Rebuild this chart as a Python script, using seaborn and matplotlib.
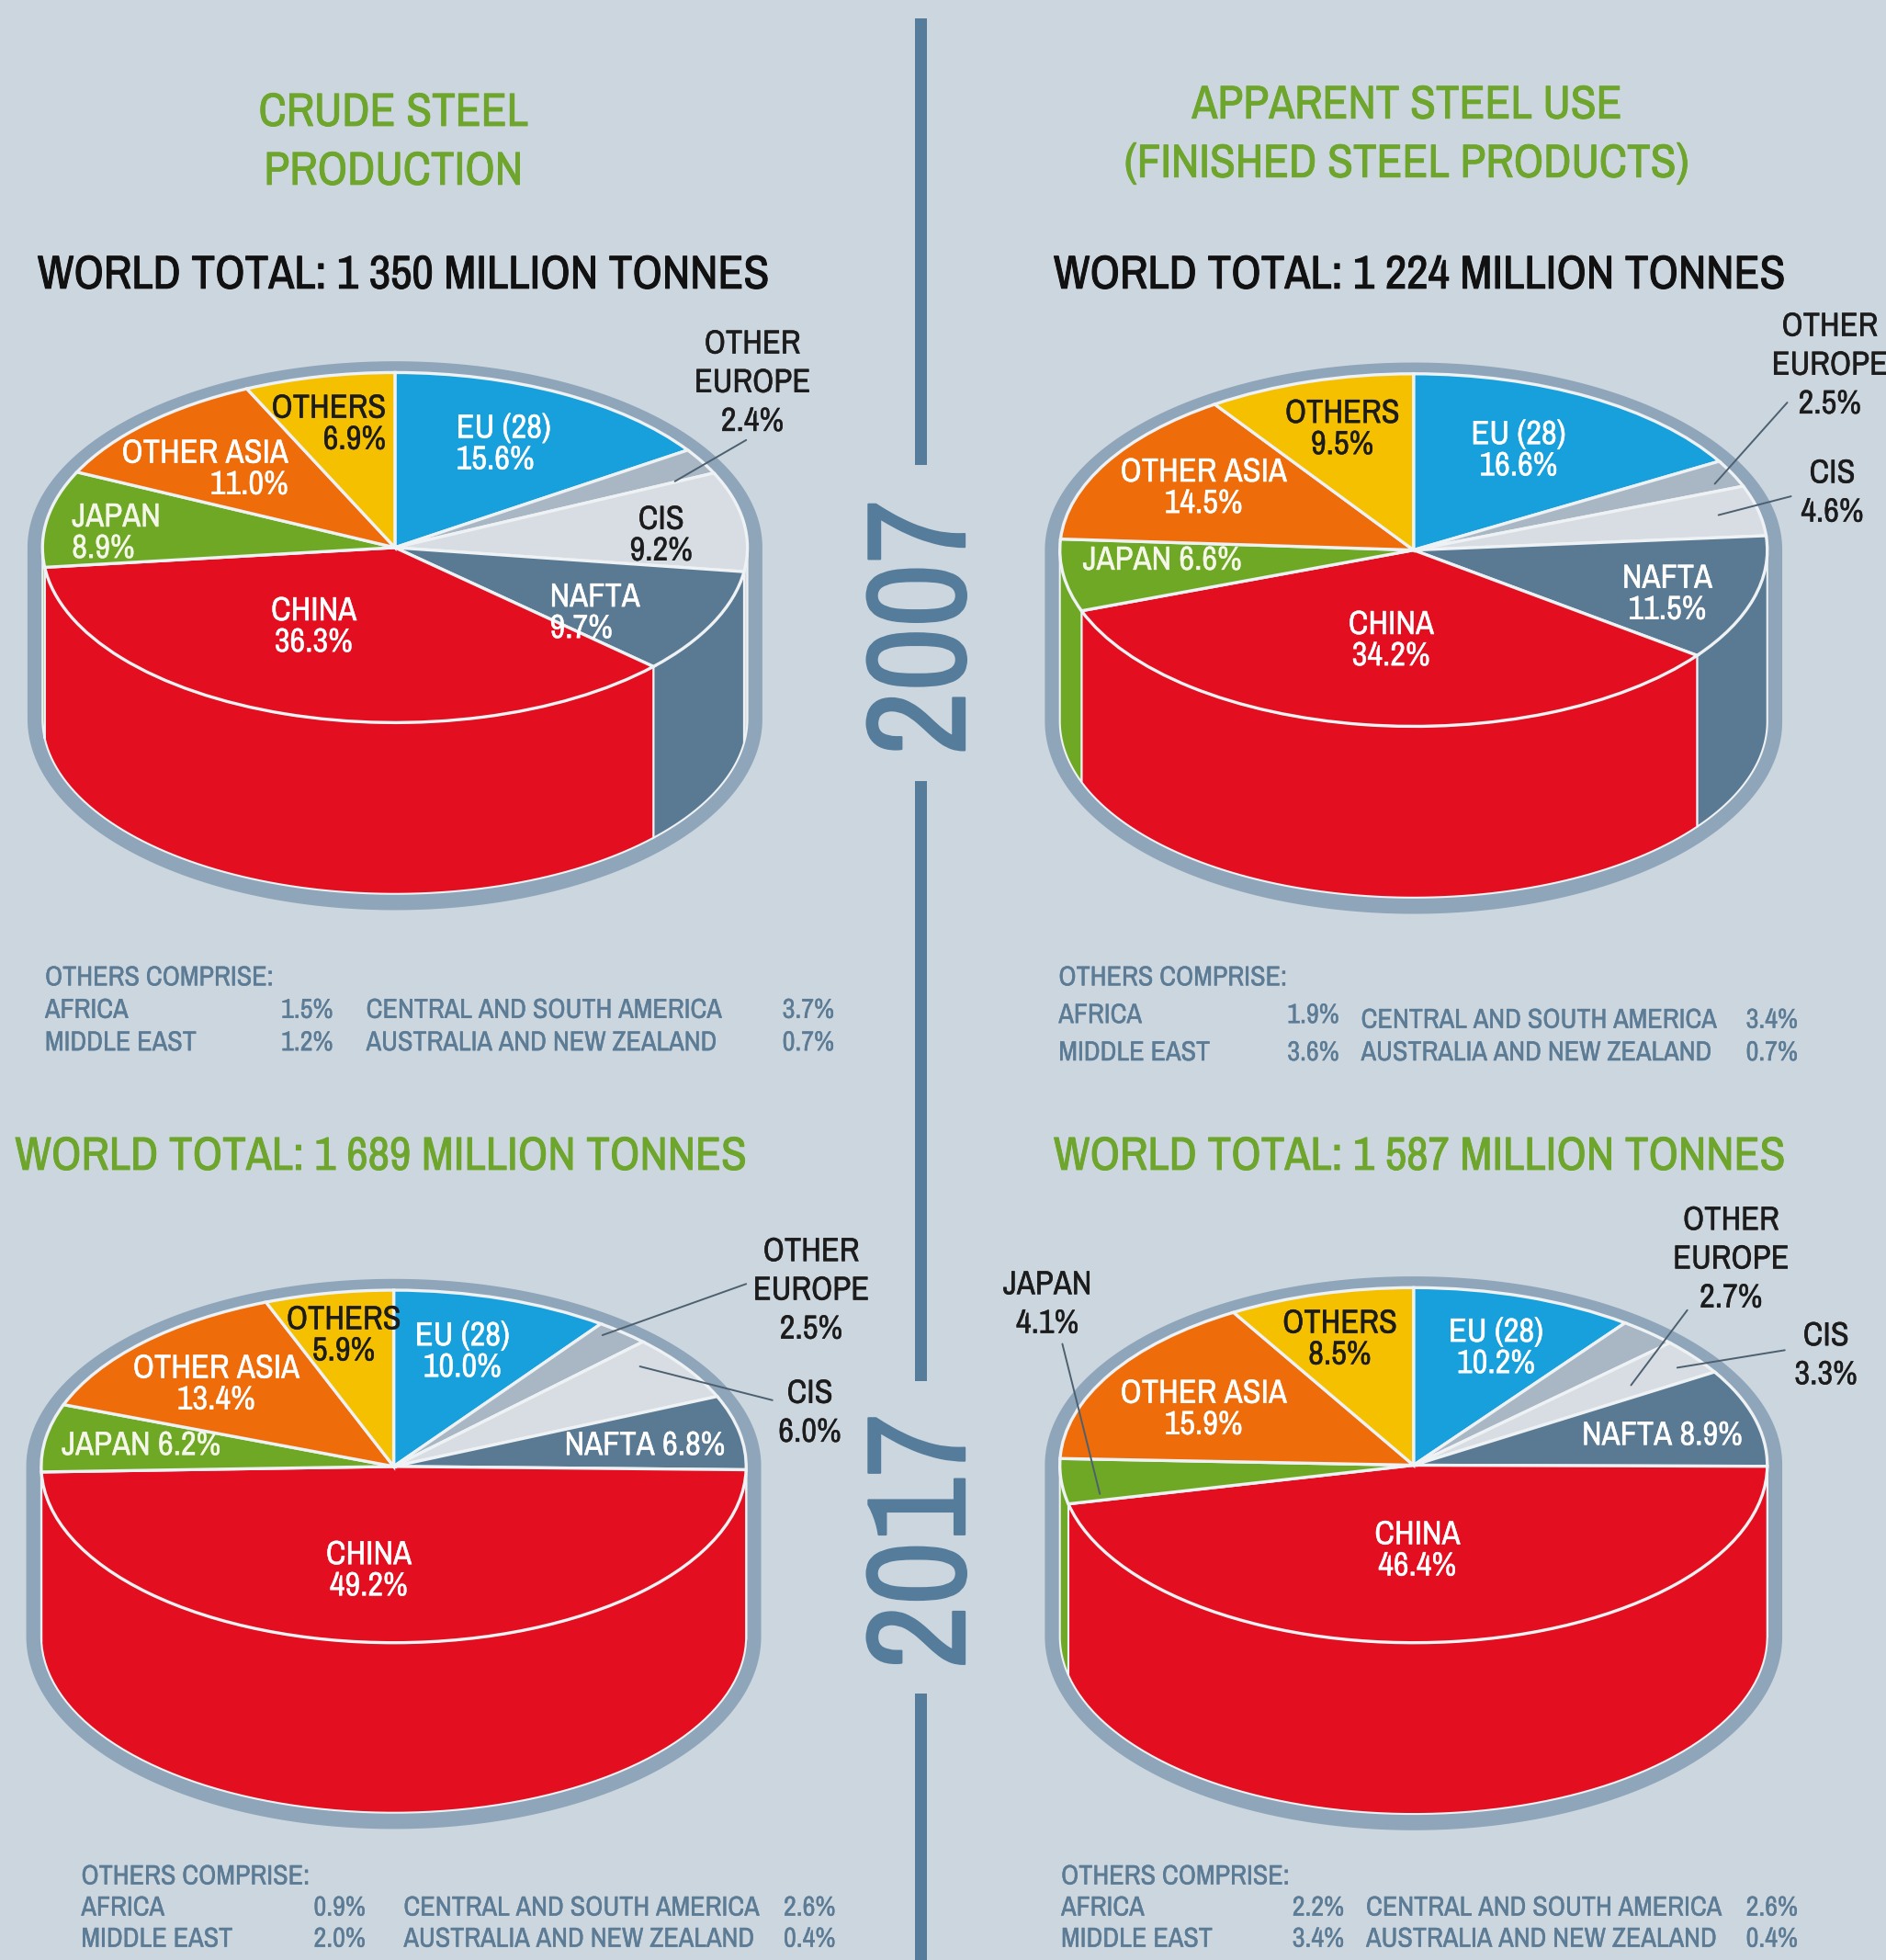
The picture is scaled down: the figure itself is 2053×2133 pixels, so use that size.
import numpy as np
import matplotlib
matplotlib.use("Agg")
import matplotlib.pyplot as plt
import matplotlib.patheffects as pe
from matplotlib import font_manager
from matplotlib.lines import Line2D
from matplotlib.patches import Rectangle
import seaborn as sns

# slices run clockwise from 12 o'clock
slice_names = ["EU (28)", "OTHER EUROPE", "CIS", "NAFTA", "CHINA", "JAPAN", "OTHER ASIA", "OTHERS"]
prod_2007 = [15.6, 2.4, 9.2, 9.7, 36.3, 8.9, 11.0, 6.9]
use_2007 = [16.6, 2.5, 4.6, 11.5, 34.2, 6.6, 14.5, 9.5]
prod_2017 = [10.0, 2.5, 6.0, 6.8, 49.2, 6.2, 13.4, 5.9]
use_2017 = [10.2, 2.7, 3.3, 8.9, 46.4, 4.1, 15.9, 8.5]

other_names = ["AFRICA", "MIDDLE EAST", "CENTRAL AND SOUTH AMERICA", "AUSTRALIA AND NEW ZEALAND"]
others_prod_2007 = [1.5, 1.2, 3.7, 0.7]
others_use_2007 = [1.9, 3.6, 3.4, 0.7]
others_prod_2017 = [0.9, 2.0, 2.6, 0.4]
others_use_2017 = [2.2, 3.4, 2.6, 0.4]

totals = ["1 350", "1 224", "1 689", "1 587"]
years = ["2007", "2017"]

W, H = 2053, 2133
S = W / 1509  # layout below was measured on a 1509 px wide view

BG = "#ccd6df"
RING = "#8fa5b9"
EDGE = "#eef2f4"
GREEN = "#6ea52c"
BLUE = "#557d9b"
SLATE = "#5c7b95"
DARK = "#1c1c1c"
slice_colors = sns.color_palette(["#18a0dc", "#a9b7c5", "#d7dde3", "#5a7a93",
                                  "#e30f20", "#6fa824", "#ef6c0a", "#f5c000"])

sns.set_theme(style="white", rc={"figure.facecolor": BG, "axes.facecolor": "none"})
# the original is set in a condensed face; shrink the text if the narrow one is missing
have = {f.name for f in font_manager.fontManager.ttflist}
NARROW = "Archivo Narrow" in have
FS = 1.0 if NARROW else 0.78
plt.rcParams["font.family"] = ["Archivo Narrow", "Liberation Sans", "DejaVu Sans"] if NARROW else ["Liberation Sans", "DejaVu Sans"]

LABEL = 26.3
SMALL = 21.7
HEAD = 36.8

fig = plt.figure(figsize=(W / 100, H / 100), dpi=100)


def put(x, y, s, size=LABEL, color=DARK, ha="center", va="center", heavy=0.25, **kw):
    t = fig.text(x * S / W, 1 - y * S / H, s, fontsize=size * FS, color=color, ha=ha, va=va, **kw)
    t.set_path_effects([pe.withStroke(linewidth=heavy, foreground=color)])
    return t


def leader(x1, y1, x2, y2, color="#4d6070"):
    fig.add_artist(Line2D([x1 * S / W, x2 * S / W], [1 - y1 * S / H, 1 - y2 * S / H],
                          color=color, lw=1.4, zorder=6))


def cylinder(values, cx, cy, rx, ry, depth, rim=(12, 9, 13)):
    d = depth / ry
    pad_x, pad_y = 0.12, 0.15
    left = (cx - rx * (1 + pad_x)) * S / W
    width = 2 * rx * (1 + pad_x) * S / W
    bottom = 1 - (cy + ry * (1 + d + pad_y)) * S / H
    height = ry * (2 + d + 2 * pad_y) * S / H
    ax = fig.add_axes([left, bottom, width, height])

    # grey tray behind the cake
    t = np.radians(np.linspace(-90, 90, 200))
    rr = 1 + rim[0] / rx
    tx = np.r_[rr * np.sin(t), rr * np.sin(t[::-1])]
    ty = np.r_[(1 + rim[1] / ry) * np.cos(t), -d - (1 + rim[2] / ry) * np.cos(t[::-1])]
    ax.fill(tx, ty, color=RING, lw=0, zorder=0)

    # side wall from the front half of each slice
    edges = np.r_[0, np.cumsum(values)] / np.sum(values) * 360
    for a1, a2, col in zip(edges[:-1], edges[1:], slice_colors):
        lo, hi = max(a1, 90), min(a2, 270)
        if lo >= hi:
            continue
        a = np.radians(np.linspace(lo, hi, 80))
        wx = np.r_[np.sin(a), np.sin(a[::-1])]
        wy = np.r_[np.cos(a), np.cos(a[::-1]) - d]
        ax.fill(wx, wy, facecolor=col, edgecolor=EDGE, lw=1.5, zorder=1)

    ax.pie(values, colors=slice_colors, startangle=90, counterclock=False, radius=1,
           wedgeprops={"edgecolor": EDGE, "linewidth": 2.4, "zorder": 2})
    ax.set_aspect("auto")
    ax.set_xlim(-1 - pad_x, 1 + pad_x)
    ax.set_ylim(-1 - d - pad_y, 1 + pad_y)
    ax.axis("off")
    return ax


def slice_text(values, layout, outside=(1,)):
    # layout: slice index -> x, y, colour, separator, line alignment
    for i, (x, y, col, sep, ma) in layout.items():
        name = slice_names[i]
        if i == 1:
            name = name.replace(" ", "\n")
        put(x, y, f"{name}{sep}{values[i]:.1f}%", color=col, ma=ma,
            linespacing=1.34 if i in outside else 1.04)


def others_table(vals, x0, x1, x2, x3, y0, ys):
    put(x0, y0 + 1, "OTHERS COMPRISE:", SMALL, SLATE, ha="left")
    for k, (xn, xv) in enumerate([(x0, x1), (x2, x3)]):
        for j in range(2):
            yn, yv = ys[k][j]
            put(xn, yn + 1, other_names[2 * k + j], SMALL, SLATE, ha="left")
            put(xv, yv + 1, f"{vals[2 * k + j]:.1f}%", SMALL, SLATE, ha="left")


W1, W2 = "#ffffff", "#f3f6e8"

cylinder(prod_2007, 316, 438, 282, 140, 137)
cylinder(use_2007, 1131, 440, 283, 141, 137)
cylinder(prod_2017, 315, 1173, 282, 141, 136)
cylinder(use_2017, 1131, 1172, 283, 142, 137)

slice_text(prod_2007, {0: (403, 355, W1, "\n", "left"), 1: (602, 306, DARK, "\n", "center"),
                       2: (529, 428, DARK, "\n", "center"), 3: (476, 490, W1, "\n", "left"),
                       4: (251, 501, W1, "\n", "center"), 5: (93, 426, W2, "\n", "left"),
                       6: (164, 375, W1, "\n", "right"), 7: (263, 339, DARK, "\n", "right")})
slice_text(use_2007, {0: (1215, 360, W1, "\n", "center"), 1: (1464, 292, DARK, "\n", "center"),
                      2: (1466, 394, DARK, "\n", "center"), 3: (1334, 475, W1, "\n", "center"),
                      4: (1113, 512, W1, "\n", "center"), 5: (930, 448, W2, " ", "center"),
                      6: (963, 390, W1, "\n", "center"), 7: (1074, 343, DARK, "\n", "center")},
           outside=(1, 2))
slice_text(prod_2017, {0: (370, 1081, W1, "\n", "center"), 1: (649, 1032, DARK, "\n", "center"),
                       2: (648, 1130, DARK, "\n", "center"), 3: (516, 1156, W1, " ", "center"),
                       4: (295, 1256, W1, "\n", "center"), 5: (113, 1156, W2, " ", "center"),
                       6: (173, 1107, W1, "\n", "center"), 7: (275, 1068, DARK, "\n", "center")},
           outside=(1, 2))
slice_text(use_2017, {0: (1197, 1078, W1, "\n", "center"), 1: (1385, 1007, DARK, "\n", "center"),
                      2: (1461, 1084, DARK, "\n", "center"), 3: (1330, 1148, W1, " ", "center"),
                      4: (1134, 1240, W1, "\n", "center"), 6: (963, 1127, W1, "\n", "center"),
                      7: (1072, 1071, DARK, "\n", "center")},
           outside=(1, 2))
# Japan sits outside the 2017 use pie
put(838, 1043, f"{slice_names[5]}\n{use_2017[5]:.1f}%", linespacing=1.34)

for seg in [(597, 352, 540, 385), (1430, 322, 1372, 387), (1433, 397, 1375, 412),
            (597, 1027, 482, 1068), (618, 1120, 512, 1093), (1350, 1048, 1305, 1108),
            (1428, 1080, 1342, 1094), (850, 1075, 880, 1195)]:
    leader(*seg)

# headings
put(315, 90, "CRUDE STEEL", HEAD, GREEN, heavy=0.6)
put(315, 137, "PRODUCTION", HEAD, GREEN, heavy=0.6)
put(1126, 84, "APPARENT STEEL USE", HEAD, GREEN, heavy=0.6)
put(1126, 131, "(FINISHED STEEL PRODUCTS)", HEAD, GREEN, heavy=0.6)
put(30, 220, f"WORLD TOTAL: {totals[0]} MILLION TONNES", HEAD, "#111111", ha="left", heavy=0.7)
put(843, 220, f"WORLD TOTAL: {totals[1]} MILLION TONNES", HEAD, "#111111", ha="left", heavy=0.7)
put(12, 925, f"WORLD TOTAL: {totals[2]} MILLION TONNES", HEAD, GREEN, ha="left", heavy=0.6)
put(843, 925, f"WORLD TOTAL: {totals[3]} MILLION TONNES", HEAD, GREEN, ha="left", heavy=0.6)

others_table(others_prod_2007, 36, 225, 293, 626, 781, [[(807, 807), (833, 833)], [(807, 807), (833, 833)]])
others_table(others_use_2007, 847, 1030, 1089, 1397, 781, [[(811, 811), (841, 841)], [(815, 815), (841, 841)]])
others_table(others_prod_2017, 65, 251, 323, 627, 1500, [[(1525, 1525), (1550, 1550)], [(1525, 1525), (1550, 1550)]])
others_table(others_use_2017, 849, 1034, 1093, 1397, 1500, [[(1525, 1525), (1550, 1550)], [(1525, 1525), (1550, 1550)]])

# centre divider and years
for y1, y2 in [(15, 372), (625, 1105), (1355, 1568)]:
    fig.add_artist(Rectangle(((737 - 5) * S / W, 1 - y2 * S / H), 10 * S / W, (y2 - y1) * S / H,
                             transform=fig.transFigure, facecolor=BLUE, edgecolor="none"))
put(741, 502, years[0], 110, BLUE, rotation=90, heavy=1.5)
put(741, 1233, years[1], 110, BLUE, rotation=90, heavy=1.5)

fig.savefig("out.png", dpi=100, facecolor=BG)
